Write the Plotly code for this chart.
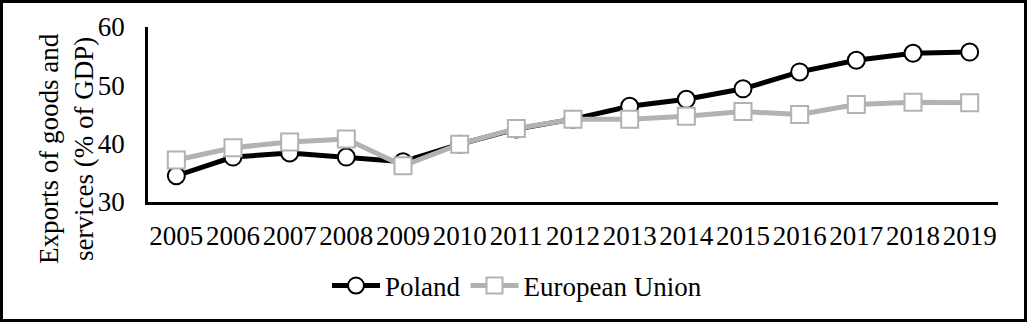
import plotly.graph_objects as go

years = ["2005","2006","2007","2008","2009","2010","2011","2012","2013","2014","2015","2016","2017","2018","2019"]
poland = [34.5, 37.7, 38.4, 37.7, 36.9, 39.9, 42.5, 44.2, 46.4, 47.6, 49.4, 52.3, 54.3, 55.5, 55.7]
eu = [37.2, 39.3, 40.3, 40.8, 36.2, 39.9, 42.6, 44.2, 44.2, 44.7, 45.5, 45.0, 46.7, 47.1, 47.0]

W, H = 1027, 322
L, R, T, B = 148, 29, 27, 120
pw, ph = W - L - R, H - T - B

font = dict(family="Liberation Serif", size=27, color="black")
GRAY = "#b2b2b2"

fig = go.Figure()
fig.add_trace(go.Scatter(x=years, y=poland, name="Poland", mode="lines+markers",
                         line=dict(color="black", width=5),
                         marker=dict(symbol="circle", size=17, color="white",
                                     line=dict(color="black", width=2))))
fig.add_trace(go.Scatter(x=years, y=eu, name="European Union", mode="lines+markers",
                         line=dict(color=GRAY, width=5),
                         marker=dict(symbol="square", size=17, color="white",
                                     line=dict(color=GRAY, width=2))))

fig.update_layout(
    width=W, height=H,
    margin=dict(l=L, r=R, t=T, b=B),
    paper_bgcolor="white", plot_bgcolor="white",
    font=font,
    showlegend=True,
    legend=dict(orientation="h", x=(517 - L) / pw, xanchor="center", y=-(286 - 202) / ph,
                yanchor="middle", font=font, itemwidth=48, tracegroupgap=0),
    xaxis=dict(type="category", showgrid=False, showline=True, linecolor="black",
               linewidth=2.5, ticks="", tickfont=font, ticklabelstandoff=8,
               range=[-0.5, 14.5], zeroline=False),
    yaxis=dict(range=[30, 60], dtick=10, showgrid=False, showline=True,
               linecolor="black", linewidth=2.5, ticks="", tickfont=font,
               ticklabelstandoff=15, zeroline=False),
)

fig.add_annotation(text="Exports of goods and<br>services (% of GDP)",
                   xref="paper", yref="paper",
                   x=-(148 - 66) / pw, y=1 - (149 - T) / ph,
                   xanchor="center", yanchor="middle", textangle=-90,
                   showarrow=False, font=font)

fig.add_shape(type="rect", xref="paper", yref="paper",
              x0=-(L - 1.5) / pw, x1=1 + (R - 1.5) / pw,
              y0=-(B - 1.5) / ph, y1=1 + (T - 1.5) / ph,
              line=dict(color="black", width=3), layer="above")

fig.write_html("out.html")
